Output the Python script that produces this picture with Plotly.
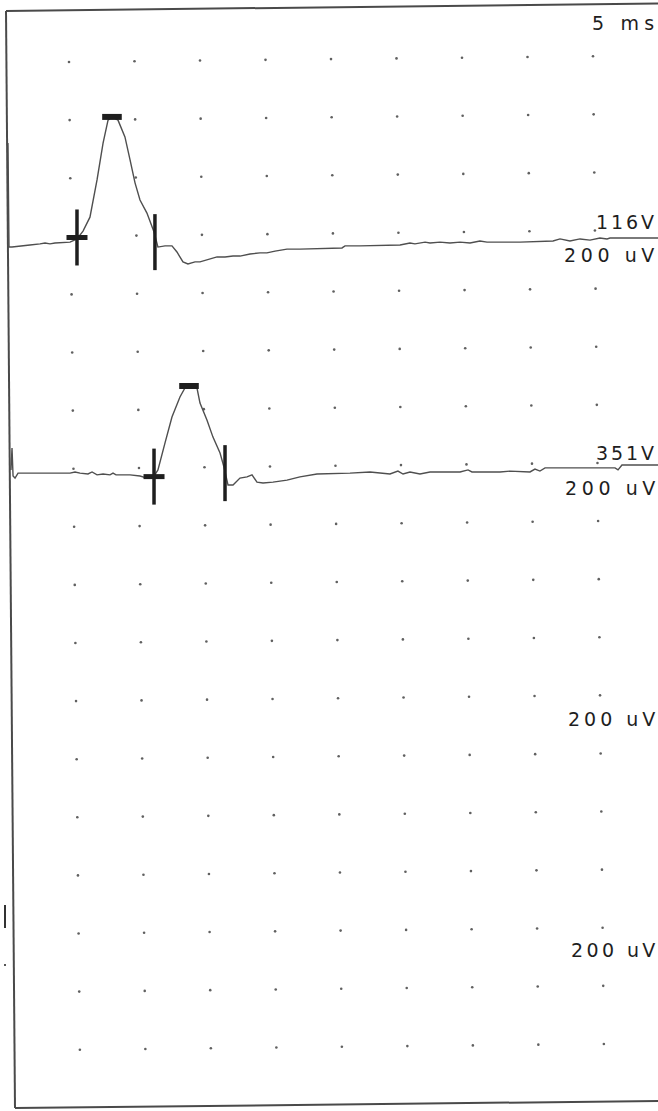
import plotly.graph_objects as go

# ---------------- data (sweep 5 ms/div, sensitivity 200 uV/div) ----------------
ch1_t_ms = [0.34, 0.42, 0.65, 1.26, 2.02, 2.79, 3.17, 3.55, 3.93, 5.08,
            5.61, 6.07, 6.60, 7.14, 7.60, 7.98, 8.28, 8.74, 9.27, 9.66,
            10.04, 10.42, 10.95, 11.49, 11.79, 12.33, 12.86, 13.24, 13.70, 14.08,
            14.62, 15.00, 15.76, 16.30, 16.91, 17.52, 18.05, 18.82, 19.58, 20.11,
            20.73, 21.64, 22.63, 24.92, 25.84, 26.07, 27.21, 30.27, 31.03, 31.41,
            32.18, 32.56, 33.32, 34.08, 34.85, 35.61, 36.37, 36.91, 37.90, 39.43,
            41.95, 42.48, 43.24, 44.01, 44.77, 45.53, 46.07, 46.30, 50.0]
ch1_uv = [344, -14, -14, -10, -7, -3, 0, -3, 0, 3,
          14, 41, 89, 217, 344, 423, 434, 423, 365, 286,
          207, 148, 103, 38, -14, -10, -10, -31, -65, -72,
          -65, -65, -55, -48, -48, -45, -45, -38, -34, -34,
          -28, -21, -21, -17, -17, -10, -10, -7, 0, -3,
          3, 0, 3, 0, 3, 0, 7, 3, 3, 3,
          7, 14, 7, 14, 10, 17, 14, 17, 17]

ch2_t_ms = [0.57, 0.65, 0.73, 0.88, 1.11, 1.26, 5.08, 5.46, 5.84, 6.45,
            6.76, 7.14, 7.60, 8.13, 8.36, 8.59, 9.66, 10.42, 10.95, 11.49,
            11.79, 12.33, 12.86, 13.47, 13.85, 14.16, 14.77, 15.00, 15.53, 15.99,
            16.53, 16.83, 17.14, 17.52, 18.05, 18.59, 18.97, 19.35, 19.81, 20.57,
            21.64, 22.63, 23.93, 26.45, 27.98, 29.50, 30.11, 30.50, 31.03, 31.79,
            32.56, 34.85, 35.46, 35.76, 37.90, 38.66, 40.19, 40.57, 40.95, 41.34,
            45.53, 46.68, 46.91, 47.21, 50.0]
ch2_uv = [14, 89, -7, -14, 3, 3, 3, 7, 3, 0,
          7, -3, 0, -3, 3, -3, -3, -7, -14, -7,
          14, 107, 196, 265, 296, 303, 296, 244, 186, 127,
          72, 24, -38, -38, -14, -10, -3, -28, -31, -28,
          -21, -10, 0, 3, 7, 0, 10, 0, 7, 0,
          7, 7, 14, 7, 7, 10, 7, 17, 10, 21,
          21, 21, 14, 31, 31]

onset_ms = [5.61, 11.49]
onset_uv = [19, -9]
peak_ms = [8.28, 14.16]
peak_uv = [434, 303]
end_ms = [11.56, 16.91]
end_uv = [3, 3]

stim_labels = ["116V", "351V"]
sens_labels = ["200 uV", "200 uV", "200 uV", "200 uV"]
sweep_label = "5 ms"

# ---------------- geometry / scales ----------------
W, H = 658, 1111
PX_PER_MS = 13.1
X0_PX = 3.5
PX_PER_UV = 58.1 / 200.0


def t_of_px(px):
    return (px - X0_PX) / PX_PER_MS


def y_of_px(py):
    return (H - py) / PX_PER_UV


baselines = [y_of_px(243), y_of_px(474), y_of_px(706), y_of_px(937.5)]

INK = "#1e1e1e"
TRACE = "#4f4f4f"

fig = go.Figure()

# dotted graticule (scan is rotated slightly)
skew = 0.011
dx, dy = [], []
for j in range(18):
    for i in range(9):
        px0 = 69 + 65.5 * i
        py0 = 62 + 58.1 * j
        px = px0 + skew * (py0 - 62)
        py = py0 - skew * (px0 - 69)
        dx.append(t_of_px(px))
        dy.append(y_of_px(py))
fig.add_trace(go.Scatter(x=dx, y=dy, mode="markers",
                         marker=dict(size=2.6, color="#606060"),
                         hoverinfo="skip", showlegend=False))

# waveforms
for tt, vv, base in [(ch1_t_ms, ch1_uv, baselines[0]), (ch2_t_ms, ch2_uv, baselines[1])]:
    fig.add_trace(go.Scatter(x=tt, y=[base + v for v in vv], mode="lines",
                             line=dict(color=TRACE, width=1.4),
                             hoverinfo="skip", showlegend=False))

# cursors
for k in range(2):
    b = baselines[k]
    fig.add_trace(go.Scatter(x=[onset_ms[k]], y=[b + onset_uv[k]], mode="markers",
                             marker=dict(symbol="line-ns", size=40,
                                         line=dict(color=INK, width=3.5)),
                             hoverinfo="skip", showlegend=False))
    fig.add_trace(go.Scatter(x=[onset_ms[k]], y=[b + onset_uv[k]], mode="markers",
                             marker=dict(symbol="line-ew", size=15,
                                         line=dict(color=INK, width=5)),
                             hoverinfo="skip", showlegend=False))
    fig.add_trace(go.Scatter(x=[peak_ms[k]], y=[b + peak_uv[k]], mode="markers",
                             marker=dict(symbol="line-ew", size=14,
                                         line=dict(color=INK, width=6)),
                             hoverinfo="skip", showlegend=False))
    fig.add_trace(go.Scatter(x=[end_ms[k]], y=[b + end_uv[k]], mode="markers",
                             marker=dict(symbol="line-ns", size=40,
                                         line=dict(color=INK, width=3.5)),
                             hoverinfo="skip", showlegend=False))


# frame (paper coordinates from pixel positions)
def P(px, py):
    return px / W, 1 - py / H


shapes = []
for (a, b) in [((6, 11), (658, 3.5)), ((6, 11), (15, 1108)), ((15, 1108), (658, 1101))]:
    x0, y0 = P(*a)
    x1, y1 = P(*b)
    shapes.append(dict(type="line", xref="paper", yref="paper", x0=x0, y0=y0, x1=x1, y1=y1,
                       line=dict(color="#4a4a4a", width=2)))
x0, y0 = P(5, 905)
x1, y1 = P(5, 928)
shapes.append(dict(type="line", xref="paper", yref="paper", x0=x0, y0=y0, x1=x1, y1=y1,
                   line=dict(color="#333", width=2)))
x0, y0 = P(4, 964)
x1, y1 = P(6, 966)
shapes.append(dict(type="rect", xref="paper", yref="paper", x0=x0, y0=y0, x1=x1, y1=y1,
                   line=dict(width=0), fillcolor="#555"))

# labels
FONT = dict(family="DejaVu Sans", size=19, color=INK)


def lab(text, right_px, cy_px, ls):
    # letter spacing on all but the last glyph, so no trailing gap
    x, y = P(right_px, cy_px)
    return dict(text='<span style="letter-spacing:%spx">%s</span>%s' % (ls, text[:-1], text[-1]),
                x=x, y=y, xref="paper", yref="paper", xanchor="right", yanchor="middle",
                showarrow=False, font=FONT)


annotations = [
    lab(sweep_label, 656, 23, 5.2),
    lab(stim_labels[0], 656, 222, 2.9),
    lab(sens_labels[0], 656, 255, 4.6),
    lab(stim_labels[1], 656, 453, 2.9),
    lab(sens_labels[1], 657, 488, 4.6),
    lab(sens_labels[2], 657, 719, 4.0),
    lab(sens_labels[3], 657, 950, 3.4),
]

fig.update_layout(
    width=W, height=H, autosize=False,
    margin=dict(l=0, r=0, t=0, b=0, pad=0),
    paper_bgcolor="white", plot_bgcolor="white",
    xaxis=dict(range=[t_of_px(0), t_of_px(W)], visible=False, fixedrange=True),
    yaxis=dict(range=[y_of_px(H), y_of_px(0)], visible=False, fixedrange=True),
    shapes=shapes, annotations=annotations, showlegend=False,
)

fig.write_html("out.html")
